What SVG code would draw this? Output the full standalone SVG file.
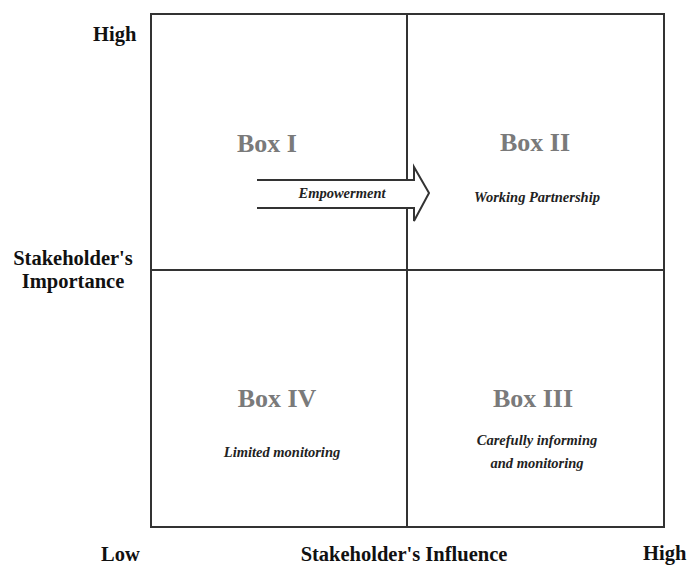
<svg xmlns="http://www.w3.org/2000/svg" width="691" height="565" viewBox="0 0 691 565">
<style>
.axis{font-family:"Liberation Serif","Times New Roman",serif;font-weight:bold;font-size:20.5px;fill:#111}
.box{font-family:"Liberation Serif","Times New Roman",serif;font-weight:bold;font-size:26px;fill:#7a7a7a;text-anchor:middle}
.note{font-family:"Liberation Serif","Times New Roman",serif;font-weight:bold;font-style:italic;font-size:14.5px;fill:#222;text-anchor:middle}
.line{stroke:#333;stroke-width:2;fill:none}
</style>
<rect width="691" height="565" fill="#fff"/>
<g id="grid">
<rect class="line" x="151" y="14" width="513" height="513"/>
<line class="line" x1="407" y1="14" x2="407" y2="527"/>
<line class="line" x1="151" y1="270" x2="664" y2="270"/>
</g>
<g id="box1"><text class="box" x="267" y="152">Box I</text></g>
<g id="box2"><text class="box" x="535" y="151">Box II</text><text class="note" x="537" y="202">Working Partnership</text></g>
<g id="box4"><text class="box" x="277" y="407">Box IV</text><text class="note" x="282" y="457">Limited monitoring</text></g>
<g id="box3"><text class="box" x="533" y="407">Box III</text><text class="note" x="537" y="445">Carefully informing</text><text class="note" x="537" y="468">and monitoring</text></g>
<g id="connectors">
<polygon points="257,180 414,180 414,167 429,193 414,221 414,208 257,208" fill="#fff" stroke="none"/>
<polyline class="line" points="257,180 414,180 414,167 429,193 414,221 414,208 257,208"/>
</g>
<g id="empowerment"><text class="note" x="342" y="198">Empowerment</text></g>
<g id="labels">
<text class="axis" x="93" y="41">High</text>
<text class="axis" x="73" y="265" text-anchor="middle">Stakeholder's</text>
<text class="axis" x="73" y="288" text-anchor="middle">Importance</text>
<text class="axis" x="101" y="561">Low</text>
<text class="axis" x="404" y="561" text-anchor="middle">Stakeholder's Influence</text>
<text class="axis" x="643" y="560">High</text>
</g>
</svg>
